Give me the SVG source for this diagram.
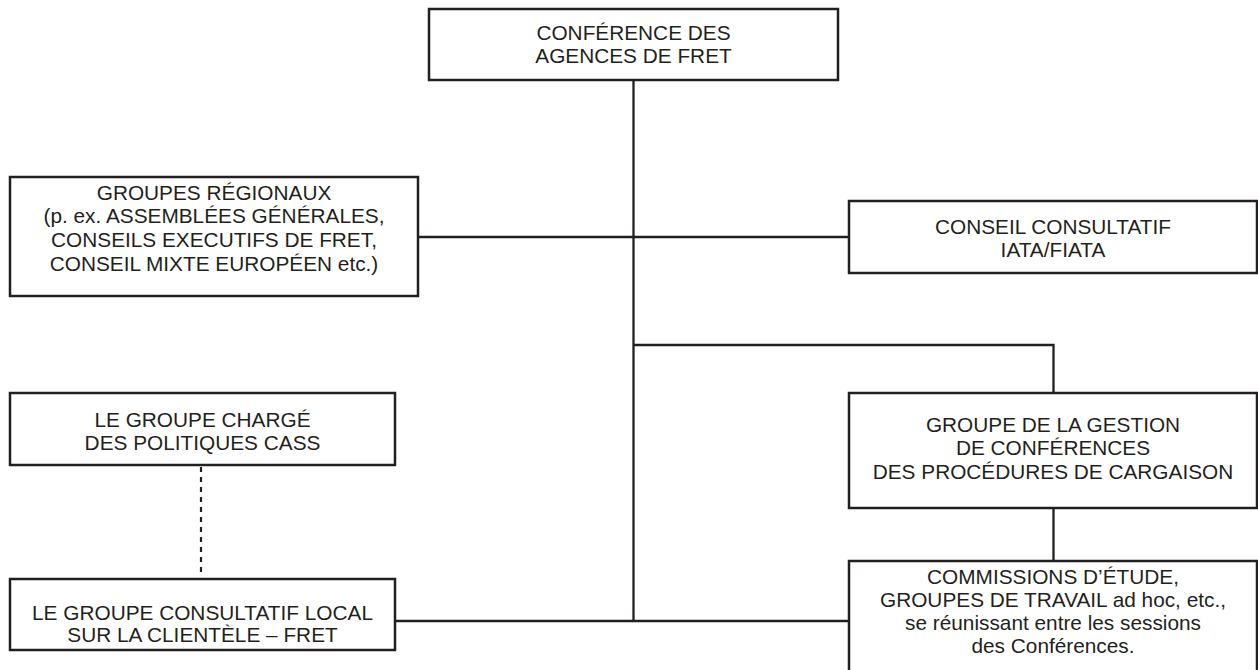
<svg xmlns="http://www.w3.org/2000/svg" width="1258" height="670" viewBox="0 0 1258 670">
<style>
.box{fill:#fff;stroke:#231f20;stroke-width:2.5}
.ln{fill:none;stroke:#231f20;stroke-width:2.3}
.dot{fill:none;stroke:#231f20;stroke-width:2.2;stroke-dasharray:5 5}
text{font-family:"Liberation Sans",Arial,sans-serif;font-size:20.8px;fill:#231f20;text-anchor:middle}
</style>
<rect width="1258" height="670" fill="#fff"/>
<g id="connectors">
<line class="ln" x1="633.5" y1="80" x2="633.5" y2="621"/>
<line class="ln" x1="418" y1="237" x2="849" y2="237"/>
<polyline class="ln" points="633.5,345 1053.5,345 1053.5,393"/>
<line class="ln" x1="1053.5" y1="508" x2="1053.5" y2="561"/>
<line class="ln" x1="395" y1="621" x2="849" y2="621"/>
<line class="dot" x1="201" y1="467" x2="201" y2="577"/>
</g>
<g id="conference">
<rect class="box" x="429" y="9" width="409" height="71"/>
<text x="633.5" y="39.5">CONFÉRENCE DES</text>
<text x="633.5" y="62.5">AGENCES DE FRET</text>
</g>
<g id="groupes-regionaux">
<rect class="box" x="10" y="177" width="408" height="119"/>
<text x="214" y="199.5">GROUPES RÉGIONAUX</text>
<text x="214" y="223">(p. ex. ASSEMBLÉES GÉNÉRALES,</text>
<text x="214" y="246.5">CONSEILS EXECUTIFS DE FRET,</text>
<text x="214" y="270.5">CONSEIL MIXTE EUROPÉEN etc.)</text>
</g>
<g id="conseil-consultatif">
<rect class="box" x="849" y="201" width="408" height="72"/>
<text x="1053" y="233.5">CONSEIL CONSULTATIF</text>
<text x="1053" y="256.5">IATA/FIATA</text>
</g>
<g id="groupe-cass">
<rect class="box" x="10" y="393" width="385" height="72"/>
<text x="202.5" y="426.5">LE GROUPE CHARGÉ</text>
<text x="202.5" y="449.5">DES POLITIQUES CASS</text>
</g>
<g id="gestion">
<rect class="box" x="849" y="393" width="408" height="115"/>
<text x="1053" y="431.5">GROUPE DE LA GESTION</text>
<text x="1053" y="455">DE CONFÉRENCES</text>
<text x="1053" y="479">DES PROCÉDURES DE CARGAISON</text>
</g>
<g id="groupe-local">
<rect class="box" x="10" y="579" width="385" height="71"/>
<text x="202.5" y="620">LE GROUPE CONSULTATIF LOCAL</text>
<text x="202.5" y="642">SUR LA CLIENTÈLE – FRET</text>
</g>
<g id="commissions">
<rect class="box" x="849" y="561" width="408" height="115"/>
<text x="1053" y="583.5">COMMISSIONS D’ÉTUDE,</text>
<text x="1053" y="606.5">GROUPES DE TRAVAIL ad hoc, etc.,</text>
<text x="1053" y="629.5">se réunissant entre les sessions</text>
<text x="1053" y="652.5">des Conférences.</text>
</g>
</svg>
